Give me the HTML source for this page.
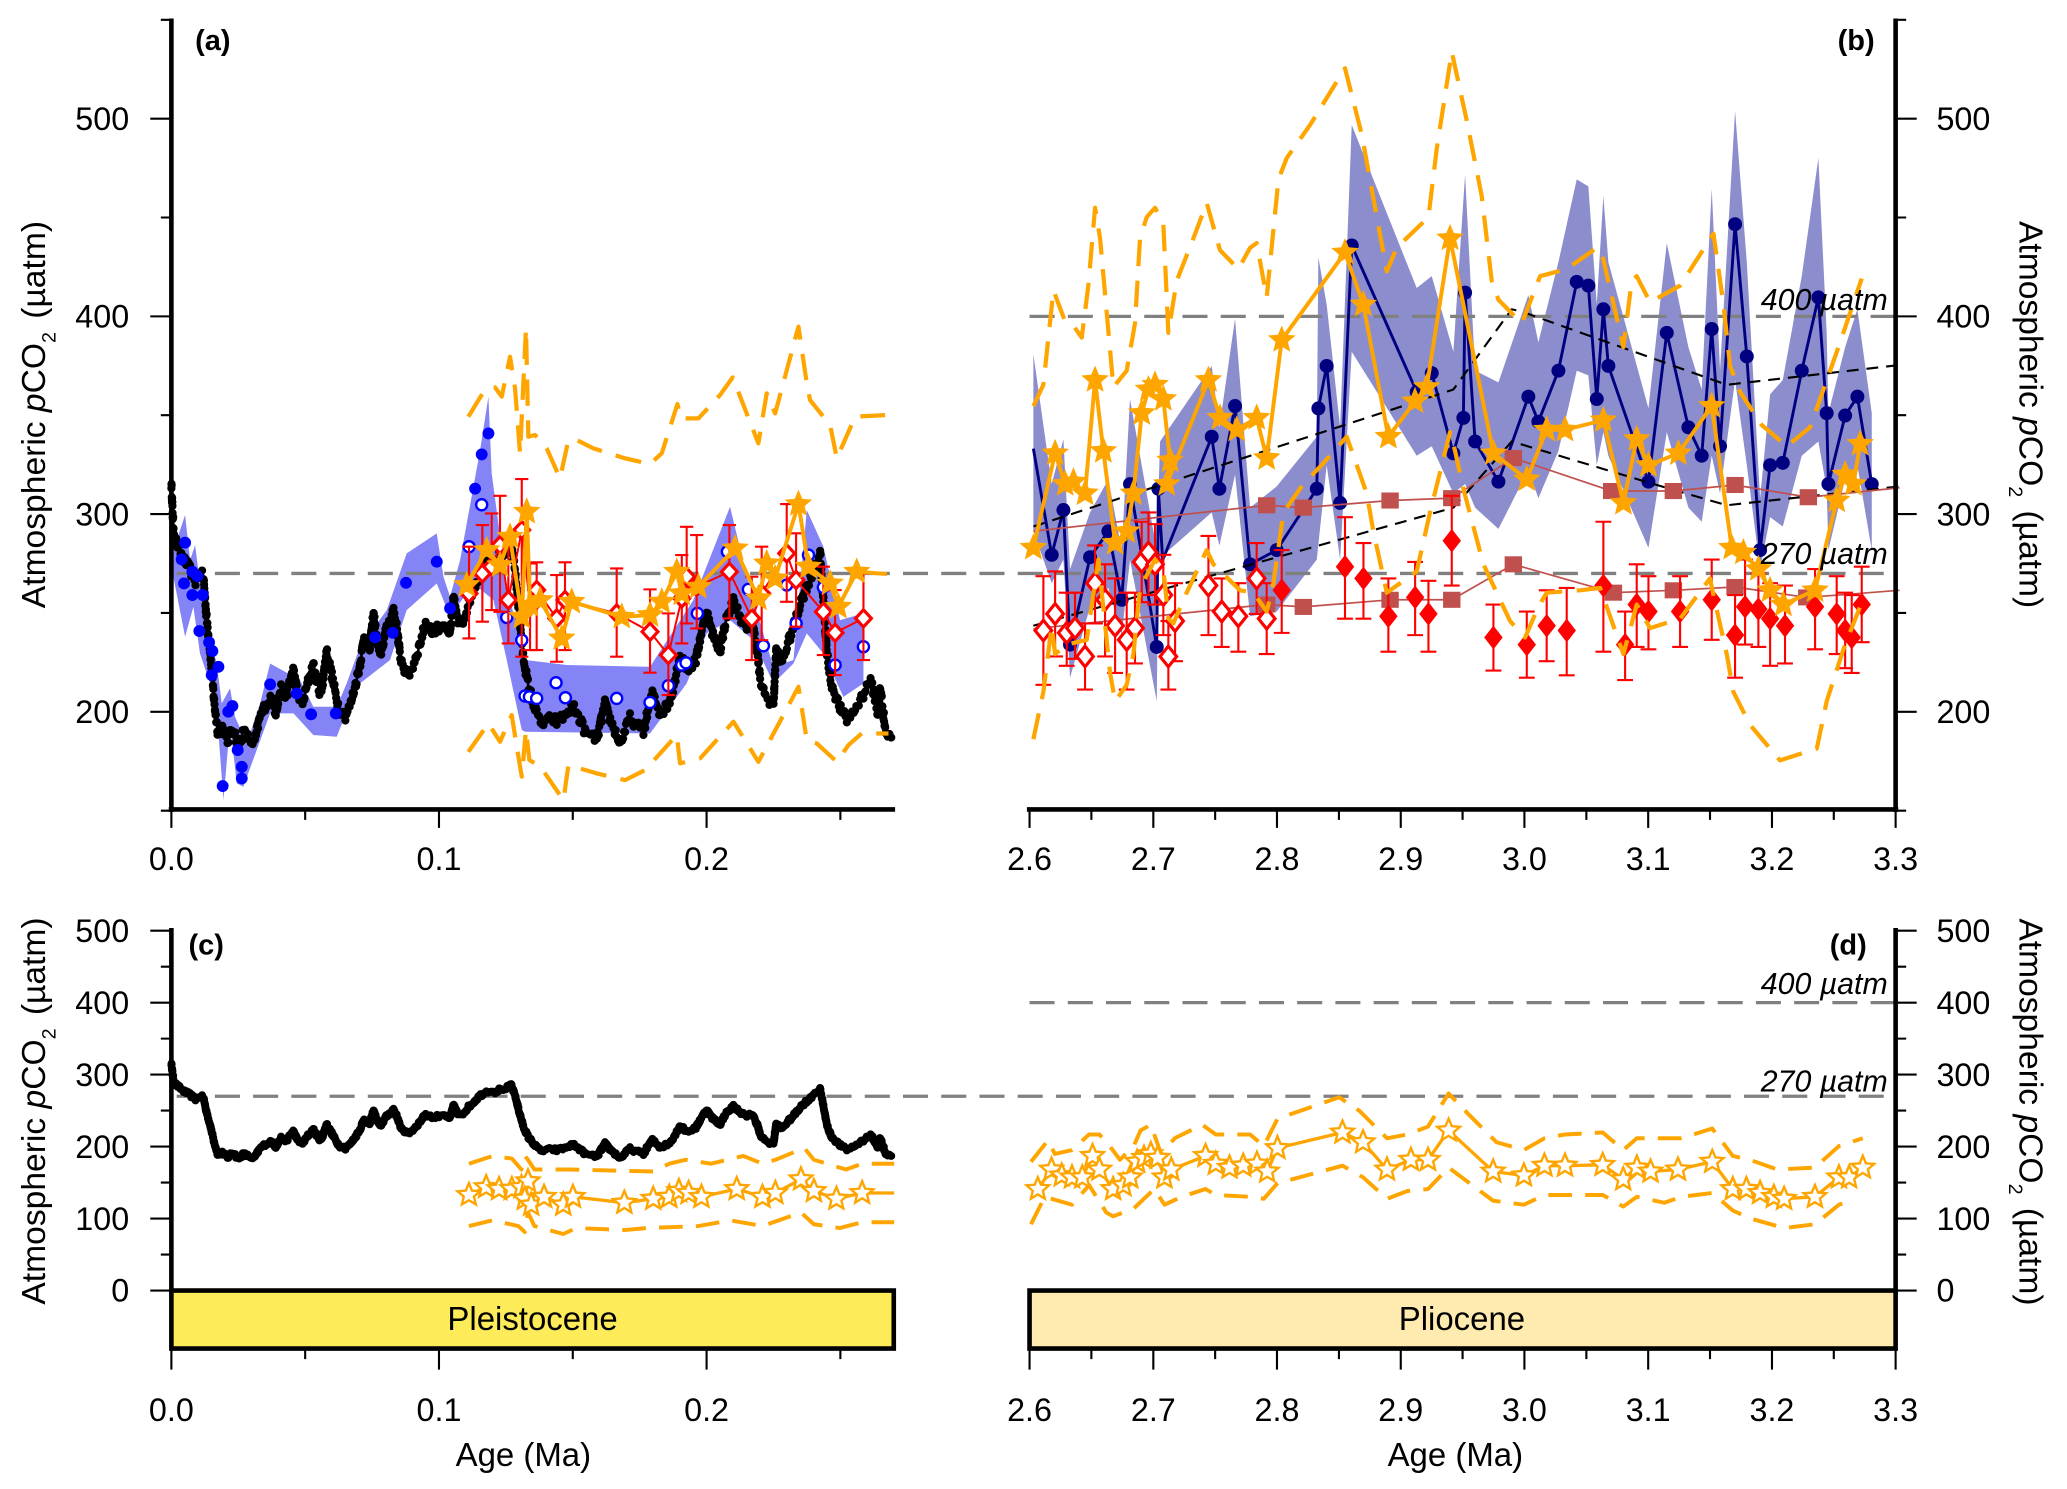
<!DOCTYPE html>
<html><head><meta charset="utf-8">
<style>
html,body{margin:0;padding:0;background:#fff;}
svg{display:block;}
text{font-family:"Liberation Sans",Arial,sans-serif;fill:#000;}
</style></head>
<body>
<svg id="s" xmlns="http://www.w3.org/2000/svg" width="2067" height="1489" viewBox="0 0 1568 1129.55">
<rect width="1568" height="1130" fill="#fff"/>
<g id="g1"></g>
<g stroke="#808080" stroke-width="2.5" stroke-dasharray="19 10" fill="none">
<path d="M134,435H1438"/>
<path d="M781,240H1438"/>
<path d="M134,831.6H1438"/>
<path d="M781,760.6H1438"/>
</g>
<g id="g2"></g>

<!-- axes -->
<g stroke="#000" fill="none">
<path d="M130,14V616M128,614H679" stroke-width="3.5"/>
<path d="M1438,14V616M779,614H1440" stroke-width="3.5"/>
<path d="M130,704V981" stroke-width="3.5"/>
<path d="M1438,704V981" stroke-width="3.5"/>
<path stroke-width="1.6" d="M114,540H130M114,390H130M114,240H130M114,90H130M122,615H130M122,465H130M122,315H130M122,165H130M122,15H130"/>
<path stroke-width="1.6" d="M1438,540H1454M1438,390H1454M1438,240H1454M1438,90H1454M1438,615H1446M1438,465H1446M1438,315H1446M1438,165H1446M1438,15H1446"/>
<path stroke-width="1.6" d="M130,614V628M333,614V628M536,614V628M231.5,614V622M434.5,614V622M637.5,614V622"/>
<path stroke-width="1.6" d="M781,614V628M874.9,614V628M968.7,614V628M1062.6,614V628M1156.4,614V628M1250.3,614V628M1344.2,614V628M1438,614V628M827.9,614V622M921.8,614V622M1015.7,614V622M1109.5,614V622M1203.4,614V622M1297.2,614V622M1391.1,614V622"/>
<path stroke-width="1.6" d="M114,979H130M114,924.4H130M114,869.8H130M114,815.2H130M114,760.6H130M114,706H130M122,951.7H130M122,897.1H130M122,842.5H130M122,787.9H130M122,733.3H130"/>
<path stroke-width="1.6" d="M1438,979H1454M1438,924.4H1454M1438,869.8H1454M1438,815.2H1454M1438,760.6H1454M1438,706H1454M1438,951.7H1446M1438,897.1H1446M1438,842.5H1446M1438,787.9H1446M1438,733.3H1446"/>
<path stroke-width="1.6" d="M130,1023V1039M333,1023V1039M536,1023V1039M231.5,1023V1031M434.5,1023V1031M637.5,1023V1031"/>
<path stroke-width="1.6" d="M781,1023V1039M874.9,1023V1039M968.7,1023V1039M1062.6,1023V1039M1156.4,1023V1039M1250.3,1023V1039M1344.2,1023V1039M1438,1023V1039M827.9,1023V1031M921.8,1023V1031M1015.7,1023V1031M1109.5,1023V1031M1203.4,1023V1031M1297.2,1023V1031M1391.1,1023V1031"/>
</g>
<rect x="130" y="979" width="548" height="44" fill="#FDEB5A" stroke="#000" stroke-width="3.5"/>
<rect x="781" y="979" width="657" height="44" fill="#FFEBAF" stroke="#000" stroke-width="3.5"/>

<g font-size="24.5">
<g text-anchor="end">
<text x="98" y="548.5">200</text><text x="98" y="398.5">300</text><text x="98" y="248.5">400</text><text x="98" y="98.5">500</text>
<text x="98" y="987.5">0</text><text x="98" y="932.9">100</text><text x="98" y="878.3">200</text><text x="98" y="823.7">300</text><text x="98" y="769.1">400</text><text x="98" y="714.5">500</text>
</g>
<g text-anchor="start">
<text x="1469" y="548.5">200</text><text x="1469" y="398.5">300</text><text x="1469" y="248.5">400</text><text x="1469" y="98.5">500</text>
<text x="1469" y="987.5">0</text><text x="1469" y="932.9">100</text><text x="1469" y="878.3">200</text><text x="1469" y="823.7">300</text><text x="1469" y="769.1">400</text><text x="1469" y="714.5">500</text>
</g>
<g text-anchor="middle">
<text x="130" y="660">0.0</text><text x="333" y="660">0.1</text><text x="536" y="660">0.2</text>
<text x="781" y="660">2.6</text><text x="874.9" y="660">2.7</text><text x="968.7" y="660">2.8</text><text x="1062.6" y="660">2.9</text><text x="1156.4" y="660">3.0</text><text x="1250.3" y="660">3.1</text><text x="1344.2" y="660">3.2</text><text x="1438" y="660">3.3</text>
<text x="130" y="1078">0.0</text><text x="333" y="1078">0.1</text><text x="536" y="1078">0.2</text>
<text x="781" y="1078">2.6</text><text x="874.9" y="1078">2.7</text><text x="968.7" y="1078">2.8</text><text x="1062.6" y="1078">2.9</text><text x="1156.4" y="1078">3.0</text><text x="1250.3" y="1078">3.1</text><text x="1344.2" y="1078">3.2</text><text x="1438" y="1078">3.3</text>
<text x="397" y="1112" font-size="25">Age (Ma)</text>
<text x="1104" y="1112" font-size="25">Age (Ma)</text>
<text x="404" y="1009" font-size="25">Pleistocene</text>
<text x="1109" y="1009" font-size="25">Pliocene</text>
</g>
</g>

<g font-size="22" font-weight="bold">
<text x="148" y="38">(a)</text>
<text x="1394" y="38">(b)</text>
<text x="143" y="724">(c)</text>
<text x="1388" y="724">(d)</text>
</g>

<g font-size="23" font-style="italic" fill="#222" text-anchor="end">
<text x="1432" y="235">400 µatm</text>
<text x="1432" y="428">270 µatm</text>
<text x="1432" y="754">400 µatm</text>
<text x="1432" y="828">270 µatm</text>
</g>

<g font-size="25.5" text-anchor="middle">
<text transform="translate(34,314.5) rotate(-90)">Atmospheric <tspan font-style="italic">p</tspan>CO<tspan font-size="15" dy="8">2</tspan><tspan dy="-8" dx="10">(µatm)</tspan></text>
<text transform="translate(34,842.8) rotate(-90)">Atmospheric <tspan font-style="italic">p</tspan>CO<tspan font-size="15" dy="8">2</tspan><tspan dy="-8" dx="10">(µatm)</tspan></text>
<text transform="translate(1532,314.5) rotate(90)">Atmospheric <tspan font-style="italic">p</tspan>CO<tspan font-size="15" dy="8">2</tspan><tspan dy="-8" dx="10">(µatm)</tspan></text>
<text transform="translate(1532,843.5) rotate(90)">Atmospheric <tspan font-style="italic">p</tspan>CO<tspan font-size="15" dy="8">2</tspan><tspan dy="-8" dx="10">(µatm)</tspan></text>
</g>
</svg>

<script>
(function(){
const NS='http://www.w3.org/2000/svg';
const G1=document.getElementById('g1'),G2=document.getElementById('g2');
function el(t,a,p){const e=document.createElementNS(NS,t);for(const k in a)e.setAttribute(k,a[k]);(p||G2).appendChild(e);return e;}
const f=v=>(+v).toFixed(1);
const P=pts=>pts.map(p=>f(p[0])+','+f(p[1])).join(' ');
const mk=(fx,fy)=>a=>a.map(p=>[fx(p[0]),fy(p[1])]);
const Z5=mk(x=>333.8+x*0.2529,y=>227.6+y*0.2529);
const Z6=mk(x=>121.4+x*0.2529,y=>341.4+y*0.2529);
const Z7=mk(x=>773.8+x*0.25287,y=>30.34+y*0.35834);
const Z8=mk(x=>1100+x*0.25287,y=>30.34+y*0.35834);
const Z3=mk(x=>-1.6+x*0.4874,y=>668.1+y*0.2961);
const Z4=mk(x=>756.1+x*0.5194,y=>668.1+y*0.2961);
function pl(pts,a,p){return el('polyline',Object.assign({points:P(pts),fill:'none','stroke-linejoin':'round'},a),p);}
function pg(pts,a,p){return el('polygon',Object.assign({points:P(pts)},a),p||G1);}
function star(x,y,R,a){let d='';for(let i=0;i<10;i++){const r=i%2?R*0.45:R,an=-Math.PI/2+i*Math.PI/5;d+=(i?'L':'M')+f(x+r*Math.cos(an))+','+f(y+r*Math.sin(an));}el('path',Object.assign({d:d+'Z'},a));}
function dia(x,y,w,h,a){el('path',Object.assign({d:'M'+f(x)+','+f(y-h)+'L'+f(x+w)+','+f(y)+'L'+f(x)+','+f(y+h)+'L'+f(x-w)+','+f(y)+'Z'},a));}
function eb(x,t,b,c){el('path',{d:'M'+f(x)+','+f(t)+'V'+f(b)+'M'+f(x-c)+','+f(t)+'H'+f(x+c)+'M'+f(x-c)+','+f(b)+'H'+f(x+c),stroke:'#f00','stroke-width':1.6,fill:'none'});}
const OR='#FFA500';
const dashA={stroke:OR,'stroke-width':3.2,'stroke-dasharray':'20 11'};

/* ---------- bands ---------- */
const uA6=[[40,300],[75,195],[90,330],[105,285],[120,400],[135,450],[150,560],[170,640],[185,760],[210,715],[225,800],[260,880],[300,760],[330,640],[420,690],[460,770],[530,770],[560,700],[600,590],[680,480],[740,310],[830,250],[850,380],[870,440],[900,330],[960,0]];
const uA5=[[145,290],[155,520],[200,860],[255,1080],[380,1095],[630,1100],[760,900],[870,620],[930,870],[1000,1100],[1060,1080],[1100,630],[1150,740],[1200,960],[1270,940]];
const lA6=[[40,380],[75,560],[100,470],[120,610],[150,700],[170,780],[190,1050],[210,820],[230,1000],[250,1010],[290,900],[330,790],[400,790],[460,855],[530,860],[550,810],[600,700],[690,630],[740,480],[830,400],[870,500]];
const lA5=[[100,850],[160,900],[200,1080],[245,1290],[255,1295],[630,1300],[740,1150],[800,1000],[870,960],[940,1020],[1000,1150],[1060,1090],[1100,1000],[1150,1060],[1210,1190],[1270,1150]];
pg(Z6(uA6).concat(Z5(uA5),Z5(lA5).reverse(),Z6(lA6).reverse()),{fill:'#8484f6'});

const uB7=[[40,665],[95,940],[130,845],[150,1120],[210,1000],[265,930],[305,1080],[330,760],[390,1000],[410,1080],[420,850],[575,690],[598,820],[645,590],[690,990],[770,945],[890,840],[895,460],[920,560],[960,820],[995,180],[1190,525],[1235,500],[1300,660],[1335,285]];
const uB8=[[75,700],[145,725],[235,540],[265,640],[325,470],[380,295],[415,310],[440,560],[460,330],[475,470],[595,780],[650,430],[715,650],[755,740],[785,315],[810,700],[855,150],[890,470],[930,970],[960,750],[998,720],[1055,500],[1105,250],[1130,620],[1135,790],[1185,650],[1222,570],[1265,790],[1265,1080]];
const lB7=[[40,1040],[95,1150],[130,1100],[150,1350],[210,1200],[265,1160],[305,1260],[330,1100],[410,1400],[415,1100],[575,1000],[598,1070],[645,920],[690,1220],[770,1210],[890,1100],[920,900],[960,1100],[995,660],[1190,880],[1235,860],[1300,960]];
const lB8=[[45,940],[75,990],[145,1035],[235,910],[265,970],[325,870],[380,700],[415,710],[440,900],[460,830],[475,880],[595,1075],[650,830],[715,990],[755,1020],[785,880],[810,960],[855,720],[890,900],[930,1120],[960,1010],[998,1030],[1055,880],[1105,850],[1130,950],[1135,1080],[1185,930],[1222,900]];
pg(Z7(uB7).concat(Z8(uB8),Z8(lB8).reverse(),Z7(lB7).reverse()),{fill:'#8b8dcd'});

/* ---------- black curve (a) & (c) ---------- */
const BK=[[0,315],[0.0005,300],[0.001,288],[0.003,282],[0.005,276],[0.007,272],[0.009,266],[0.011,270],[0.012,268],[0.013,250],[0.0145,230],[0.016,205],[0.0175,188],[0.019,192],[0.021,185],[0.023,192],[0.025,183],[0.027,190],[0.029,186],[0.031,184],[0.033,197],[0.035,203],[0.037,207],[0.039,200],[0.041,212],[0.043,208],[0.0455,222],[0.047,210],[0.049,204],[0.051,215],[0.053,224],[0.055,212],[0.056,209],[0.058,231],[0.060,218],[0.062,205],[0.063,201],[0.065,198],[0.067,204],[0.069,215],[0.0705,224],[0.072,238],[0.074,230],[0.0755,250],[0.077,235],[0.078,228],[0.080,240],[0.083,252],[0.0845,240],[0.0855,228],[0.088,218],[0.090,222],[0.093,235],[0.095,245],[0.098,240],[0.100,243],[0.102,245],[0.104,238],[0.1055,258],[0.107,245],[0.109,246],[0.111,255],[0.113,262],[0.115,270],[0.117,275],[0.119,278],[0.121,276],[0.123,280],[0.125,281],[0.127,285],[0.1285,270],[0.130,248],[0.1315,228],[0.1334,213],[0.1365,199],[0.139,193],[0.142,197],[0.144,195],[0.147,198],[0.150,203],[0.152,198],[0.155,189],[0.159,186],[0.162,204],[0.164,196],[0.1677,184],[0.1714,197],[0.174,193],[0.1764,190],[0.178,200],[0.180,210],[0.1826,199],[0.186,204],[0.188,215],[0.190,229],[0.1926,221],[0.196,226],[0.198,240],[0.200,251],[0.202,240],[0.205,231],[0.207,245],[0.210,256],[0.212,250],[0.215,241],[0.217,246],[0.219,230],[0.220,216],[0.222,208],[0.225,204],[0.226,231],[0.228,225],[0.230,233],[0.233,245],[0.235,255],[0.237,262],[0.2387,267],[0.2405,275],[0.2424,280],[0.2435,260],[0.2449,231],[0.2465,215],[0.2487,206],[0.2505,200],[0.2524,196],[0.255,200],[0.2574,206],[0.259,210],[0.261,216],[0.2625,210],[0.264,199],[0.2648,213],[0.266,200],[0.267,189],[0.269,187]];
let seed=12345;const rnd=()=>{seed=(seed*16807)%2147483647;return seed/2147483647;};
const XA=a=>130+a*2030,YA=v=>540-(v-200)*1.5,YC=v=>979-v*0.546;
const samp=[];
for(let i=0;i<BK.length-1;i++){const a0=BK[i][0],v0=BK[i][1],a1=BK[i+1][0],v1=BK[i+1][1];const d=Math.hypot((a1-a0)*2030,(v1-v0)*1.5);const n=Math.max(1,Math.ceil(d/2.2));for(let j=0;j<n;j++){const t=j/n;samp.push([a0+(a1-a0)*t,v0+(v1-v0)*t+(rnd()-0.5)*5]);}}
samp.push(BK[BK.length-1]);
const sa=samp.map(p=>[XA(p[0]),YA(p[1])]);
pl(sa,{stroke:'#000','stroke-width':2});
const gA=el('g',{fill:'#000'});
sa.forEach((p,i)=>{el('circle',{cx:f(p[0]),cy:f(p[1]),r:3.1},gA);});

/* blue dots (a) */
const bf6=[[75,278],[65,328],[72,400],[97,365],[112,378],[97,435],[128,435],[118,543],[147,577],[157,603],[175,650],[155,675],[205,785],[217,768],[233,900],[245,950],[245,985],[188,1008],[330,703],[410,730],[453,793],[527,790],[645,562],[698,548],[738,398],[830,335],[870,475]];
const bf5=[[145,400],[125,463],[105,566]];
Z6(bf6).concat(Z5(bf5)).forEach(p=>el('circle',{cx:f(p[0]),cy:f(p[1]),r:4.5,fill:'#0000ff'}));
const bo5=[[125,614],[87,740],[200,952],[245,1020],[255,1188],[268,1190],[290,1195],[348,1148],[376,1193],[530,1195],[630,1207],[685,1157],[725,1095],[738,1088],[772,940],[862,755],[925,868],[970,1037],[1040,855],[1068,970],[1105,765],[1150,862],[1185,1095],[1270,1040]];
Z5(bo5).forEach(p=>el('circle',{cx:f(p[0]),cy:f(p[1]),r:4.2,fill:'#fff',stroke:'#0000ff','stroke-width':1.8}));

/* red diamonds (a) */
const rdA=[[87,880,740,1015],[127,820,675,965],[155,800,640,930],[180,735,587,935],[205,900,720,1030],[245,690,537,1070],[270,920,790,1050],[290,870,787,1050],[350,955,825,1085],[375,900,787,1050],[530,940,805,1070],[630,995,868,1118],[685,1065,940,1185],[725,895,765,1030],[740,830,680,970],[770,860,705,985],[868,815,675,955],[935,955,830,1080],[965,880,740,1020],[1040,760,612,905],[1068,840,700,980],[1150,935,800,1065],[1185,998,870,1125],[1270,955,820,1080]];
const cY=p=>227.6+p*0.2529;
pl(rdA.map(d=>[333.8+d[0]*0.2529,cY(d[1])]),{stroke:'#f00','stroke-width':1.5});
rdA.forEach(d=>eb(333.8+d[0]*0.2529,cY(d[2]),cY(d[3]),5));
rdA.forEach(d=>dia(333.8+d[0]*0.2529,cY(d[1]),6,6.5,{fill:'#fff',stroke:'#f00','stroke-width':2.4}));

/* orange bounds (a) */
const upA=[[85,350],[135,268],[165,262],[185,290],[210,170],[225,265],[240,460],[258,85],[265,410],[285,405],[320,445],[360,535],[385,420],[410,420],[460,445],[555,475],[630,492],[665,460],[712,312],[722,355],[775,355],[840,285],[878,232],[955,430],[980,280],[1005,340],[1075,80],[1100,250],[1110,300],[1170,375],[1190,475],[1245,350],[1335,345]];
const loA=[[85,1355],[145,1270],[180,1325],[215,1245],[230,1340],[245,1430],[258,1290],[268,1380],[300,1398],[370,1500],[385,1395],[470,1420],[555,1440],[615,1410],[710,1305],[720,1390],[780,1375],[880,1265],[955,1385],[1075,1160],[1100,1320],[1130,1330],[1190,1385],[1225,1335],[1265,1300],[1345,1300]];
pl(Z5(upA),dashA);pl(Z5(loA),dashA);
/* stars (a) */
const stA=[[80,855],[140,750],[180,795],[210,710],[245,950],[260,635],[270,915],[300,900],[365,1015],[395,905],[545,950],[630,945],[665,905],[710,815],[725,880],[775,860],[885,745],[955,895],[980,790],[1005,835],[1075,612],[1105,800],[1170,850],[1195,920],[1250,815]];
pl(Z5(stA.concat([[1340,822]])),{stroke:OR,'stroke-width':3});
Z5(stA).forEach(p=>star(p[0],p[1],11,{fill:OR}));

/* ---------- panel (b) ---------- */
const navy=[[783.9,340.3],[797.8,420.9],[806.7,386.9],[811.7,489],[826.9,422.7],[840.8,403],[850.9,455],[857.2,367.2],[877.5,490.8],[878.7,370.8],[882,425],[919.2,331.3],[925,370.8],[936.9,308],[948.3,428.1],[968.5,417.3],[998.9,370.8],[1000.1,309.8],[1006.4,277.6],[1016.6,381.5],[1025.4,186.2],[1074.7,297.3],[1086.1,283],[1102.5,343.9],[1110.1,317],[1111.4,222],[1119,334.9],[1136.7,365.4],[1159.4,300.9],[1167,319.9],[1182.2,281.2],[1196.1,213.8],[1204.9,216.7],[1211.3,302.7],[1216.3,234.6],[1220.1,277.6],[1250.5,365.4],[1264.4,252.5],[1280.8,324.2],[1290.9,345.7],[1298.5,249.6],[1304.8,338.5],[1316.2,170.1],[1325.1,270.4],[1335.2,417.3],[1342.8,352.9],[1352.4,351.1],[1366.8,281.2],[1379.4,225.6],[1385.7,313.4],[1387,367.2],[1399.7,315.2],[1409,300.9],[1419.9,367.2]];
pl(navy,{stroke:'#000080','stroke-width':2.2});
navy.forEach((p,i)=>{if(i!==0&&i!==10)el('circle',{cx:f(p[0]),cy:f(p[1]),r:5.3,fill:'#000080'});});
/* black dashed */
const bdash={stroke:'#000','stroke-width':1.6,'stroke-dasharray':'9 6'};
pl([[783.9,399.4],[1102.5,295.5],[1146.8,234.6],[1154.4,236.4],[1309.9,291.9],[1441,276.9]],bdash);
pl([[783.9,474.7],[1102.5,385.1],[1146.8,334.9],[1254.3,367.2],[1309.9,383.3],[1441,369]],bdash);
/* brown */
const brU=[[783.9,403],[960.9,383.3],[988.7,385.1],[1054.5,379.7],[1101.3,377.9],[1148,347.5],[1222.6,372.5],[1269.4,372.5],[1316.2,367.9],[1371.8,377.2],[1441,370]];
const brL=[[783.9,477],[960.9,458.6],[988.7,460.4],[1054.5,455],[1101.3,455],[1148,428.1],[1223.9,449.6],[1269.4,447.8],[1316.2,445.3],[1370.6,453.2],[1441,447.8]];
[brU,brL].forEach(a=>{pl(a,{stroke:'#C0504D','stroke-width':1.3});a.slice(1,-1).forEach(p=>el('rect',{x:f(p[0]-6.6),y:f(p[1]-6.1),width:13.2,height:12.2,fill:'#C0504D'}));});
/* red diamonds (b) */
const ZY=y=>30.34+y*0.35834;
const odB=[[70,1250,1135,1365],[105,1215,1125,1305],[140,1255,1170,1325],[165,1245,1170,1310],[195,1305,1235,1375],[225,1150,1070,1235],[255,1185,1110,1305],[285,1240,1140,1340],[320,1270,1170,1375],[345,1245,1170,1320],[365,1105,1020,1190],[385,1085,1000,1175],[405,1110,1025,1195],[430,1175,1090,1260],[445,1305,1230,1375],[465,1230,1150,1315],[565,1155,1050,1260],[605,1210,1140,1285],[655,1220,1150,1295],[710,1140,1065,1215],[740,1225,1150,1300]];
const fd7=[[785,1165,1080,1255],[975,1115,1010,1225],[1030,1140,1065,1225],[1105,1220,1140,1295],[1185,1180,1105,1260],[1225,1215,1145,1295],[1295,1060,965,1155]];
const fd8=[[130,1265,1195,1335],[230,1280,1210,1350],[290,1240,1165,1315],[350,1250,1160,1345],[460,1155,1020,1295],[525,1280,1210,1355],[560,1195,1110,1285],[595,1210,1135,1290],[690,1210,1135,1285],[785,1185,1100,1270],[855,1260,1175,1350],[885,1200,1100,1280],[925,1205,1130,1285],[960,1225,1150,1325],[1005,1240,1155,1320],[1095,1200,1120,1290],[1160,1215,1135,1300],[1185,1250,1170,1330],[1205,1265,1175,1340],[1235,1195,1115,1275]];
const X7=x=>773.8+x*0.25287,X8=x=>1100+x*0.25287;
odB.forEach(d=>eb(X7(d[0]),ZY(d[2]),ZY(d[3]),6));
fd7.forEach(d=>eb(X7(d[0]),ZY(d[2]),ZY(d[3]),6));
fd8.forEach(d=>eb(X8(d[0]),ZY(d[2]),ZY(d[3]),6));
odB.forEach(d=>dia(X7(d[0]),ZY(d[1]),6.3,7.8,{fill:'#fff',stroke:'#f00','stroke-width':2.4}));
fd7.forEach(d=>dia(X7(d[0]),ZY(d[1]),7,9,{fill:'#f00'}));
fd8.forEach(d=>dia(X8(d[0]),ZY(d[1]),7,9,{fill:'#f00'}));
/* orange bounds (b) */
const upB7=[[40,775],[70,730],[100,530],[135,595],[160,605],[185,630],[205,520],[225,355],[240,420],[280,735],[320,700],[345,600],[360,420],[380,375],[405,355],[430,390],[445,620],[470,510],[520,420],[560,345],[600,445],[655,485],[690,440],[710,430],[740,545],[775,295],[800,250],[870,180],[975,60],[1025,200],[1100,490],[1130,440],[1225,375],[1250,230],[1295,25]];
const upB8=[[50,170],[95,330],[125,510],[145,550],[215,600],[270,500],[350,485],[440,440],[455,450],[520,650],[545,510],[560,500],[600,555],[690,520],[790,410],[820,560],[840,690],[870,745],[935,815],[1010,860],[1080,820],[1170,640],[1235,505]];
pl(Z7(upB7).concat(Z8(upB8)),dashA);
const loB7=[[40,1480],[70,1380],[95,1240],[105,1300],[140,1280],[200,1270],[235,1100],[270,1340],[285,1400],[320,1365],[340,1300],[360,1160],[405,1100],[430,1120],[445,1225],[460,1235],[500,1170],[560,1080],[580,1110],[660,1165],[700,1170],[740,1210],[760,1150],[790,1000],[850,940],[905,900],[980,840],[1010,900],[1040,960],[1060,1040],[1100,1170],[1190,1125],[1230,1000],[1290,830]];
const loB8=[[15,870],[40,950],[100,1110],[180,1230],[225,1265],[265,1200],[290,1170],[390,1165],[450,1160],[520,1300],[560,1195],[600,1245],[690,1225],[780,1140],[790,1175],[830,1300],[850,1380],[900,1450],[990,1525],[1100,1500],[1130,1400],[1180,1290],[1230,1200]];
pl(Z7(loB7).concat(Z8(loB8)),dashA);
/* stars (b) */
const stB=[[783.9,415.5],[800.4,343.9],[808,367.2],[814.3,365.4],[823.1,374.3],[830.7,288.3],[837,342.1],[845.9,411.9],[854.7,403],[859.8,374.3],[866.1,313.4],[871.2,295.5],[876.2,291.9],[882.5,302.7],[887.6,349.3],[885.1,367.2],[916.7,288.3],[925.5,317],[938.2,326],[953.3,317],[960.9,347.5],[972.3,257.9],[1020.3,191.6],[1034.2,231],[1053.2,331.3],[1073.4,304.5],[1082.3,293.7],[1100,180.8],[1132.9,343.9],[1158.2,363.6],[1173.3,326],[1187.2,326],[1216.3,318.8],[1231.5,381.5],[1241.6,333.1],[1250.5,352.9],[1273.2,343.9],[1298.5,308],[1313.7,415.5],[1322.5,419.1],[1333.9,431.7],[1342.8,447.8],[1352.9,458.6],[1376.9,447.8],[1393.3,379.7],[1399.7,360],[1406,367.2],[1411.1,336.7]];
pl(stB,{stroke:OR,'stroke-width':3});
stB.forEach(p=>star(p[0],p[1],11,{fill:OR}));

/* ---------- panel (c) ---------- */
const sc=samp.map(p=>[XA(p[0]),YC(p[1])]);
pl(sc,{stroke:'#000','stroke-width':2});
const gC=el('g',{fill:'#000'});
sc.forEach((p,i)=>{el('circle',{cx:f(p[0]),cy:f(p[1]),r:3},gC);});
const upC=[[733,725],[770,705],[800,712],[815,740],[820,705],[825,715],[835,740],[890,740],[1020,745],[1045,725],[1070,715],[1110,725],[1160,705],[1190,725],[1210,715],[1255,685],[1270,715],[1320,740],[1345,725],[1395,725]];
const loC=[[733,885],[770,870],[810,885],[820,900],[825,850],[835,885],[880,905],[900,890],[975,895],[1010,890],[1090,885],[1140,870],[1190,885],[1250,850],[1270,880],[1310,890],[1345,875],[1395,875]];
const dashC={stroke:OR,'stroke-width':3,'stroke-dasharray':'18 10'};
pl(Z3(upC),dashC);pl(Z3(loC),dashC);
const stC=[[733,805],[760,785],[780,790],[800,790],[815,785],[825,770],[820,815],[830,830],[850,810],[880,830],[895,810],[975,825],[1020,815],[1045,810],[1060,795],[1075,800],[1095,810],[1150,790],[1190,810],[1210,800],[1250,765],[1270,795],[1305,815],[1345,800]];
pl(Z3(stC.concat([[1395,800]])),{stroke:OR,'stroke-width':2.5});
Z3(stC).forEach(p=>star(p[0],p[1],9,{fill:'#fff',stroke:OR,'stroke-width':1.8}));

/* ---------- panel (d) ---------- */
const upD=[[50,720],[75,665],[85,700],[110,690],[135,650],[150,650],[165,680],[180,715],[200,680],[210,640],[225,625],[240,700],[260,660],[300,625],[320,650],[370,650],[390,680],[410,610],[500,555],[530,590],[570,660],[600,650],[630,630],[660,545],[690,600],[730,670],[770,690],[800,660],[830,650],[885,645],[915,690],[935,660],[1000,660],[1045,635],[1075,705],[1100,715],[1140,740],[1195,735],[1230,680],[1265,660]];
const loD=[[50,880],[70,810],[110,830],[135,780],[160,850],[170,860],[200,840],[230,790],[245,830],[270,810],[305,790],[320,805],[370,810],[390,815],[410,775],[505,730],[535,760],[570,815],[600,795],[630,790],[660,735],[725,820],[770,830],[800,805],[830,805],[885,805],[915,835],[935,810],[975,825],[1000,810],[1045,800],[1075,845],[1100,865],[1150,890],[1195,880],[1230,830],[1245,820]];
pl(Z4(upD),dashC);pl(Z4(loD),dashC);
const stD=[[60,790],[80,740],[95,755],[110,760],[125,760],[140,705],[150,740],[170,790],[185,780],[195,760],[205,720],[215,710],[225,700],[235,710],[245,760],[255,740],[305,705],[320,725],[340,735],[360,730],[380,725],[395,745],[410,685],[505,645],[535,670],[570,740],[605,715],[630,715],[660,640],[725,745],[770,755],[800,730],[830,730],[885,728],[915,765],[935,735],[955,745],[995,740],[1045,720],[1075,790],[1095,790],[1115,800],[1135,810],[1150,815],[1195,810],[1230,760],[1245,760],[1265,735]];
pl(Z4(stD),{stroke:OR,'stroke-width':2.5});
Z4(stD).forEach(p=>star(p[0],p[1],9,{fill:'#fff',stroke:OR,'stroke-width':1.8}));
})();
</script>
</body></html>
